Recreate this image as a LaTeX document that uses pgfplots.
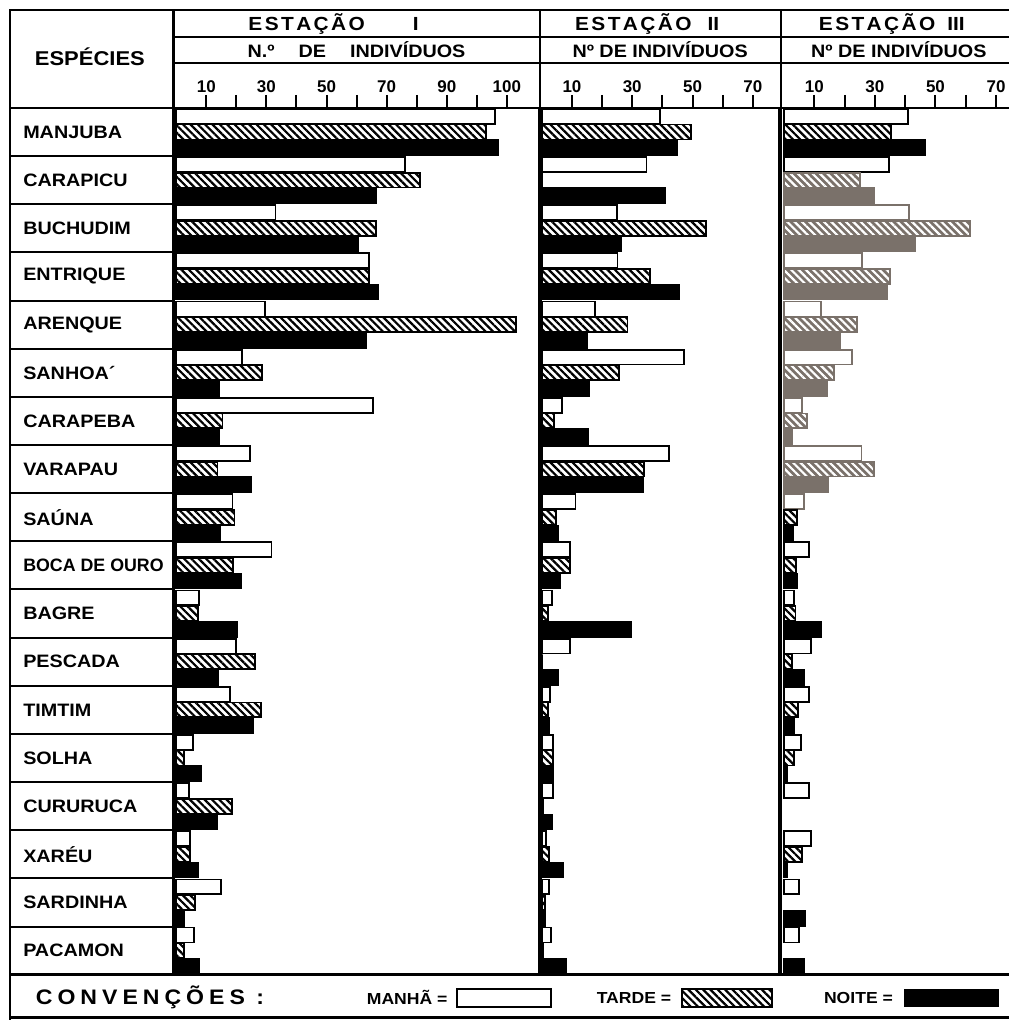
\documentclass[border=0pt]{standalone}
\usepackage{fontspec}
\setmainfont{Liberation Sans}[FakeStretch=1.1]
\newfontfamily\numfont{Liberation Sans}
\usepackage{graphicx}
\usepackage{pgfplots}
\pgfplotsset{compat=1.18}
\usepackage{pgfplotstable}
\usetikzlibrary{patterns.meta}
\definecolor{scan}{HTML}{7A716A}
\newcommand{\lsp}{\kern1.2pt}

\pgfplotstableread{
k m t n
0 106 103 107
1 76 81 66.5
2 33 66.5 60.5
3 64 64 67
4 29.5 113 63
5 22 28.5 14.3
6 65.4 15.4 14.3
7 24.6 13.7 24.9
8 18.7 19.4 14.6
9 31.7 19 21.7
10 7.6 7.1 20.4
11 19.8 26.2 14
12 17.9 28.1 25.4
13 5.6 2.7 8.2
14 4.3 18.5 13.5
15 4.5 4.5 7.4
16 14.8 6.3 2.7
17 6 2.7 7.6
}\tabI
\pgfplotstableread{
k m t n
0 39.1 49.6 45
1 34.7 0 41
2 25 54.4 26.2
3 25.1 35.8 45.4
4 17.6 28.4 15.1
5 47.1 25.6 15.7
6 6.7 4 15.3
7 42.2 33.9 33.6
8 11.2 4.6 5.4
9 9.3 9.3 6
10 3.5 2 29.7
11 9.3 0 5.4
12 2.7 2 2.5
13 3.8 3.8 3.8
14 3.8 0.5 3.3
15 1.5 2.5 7
16 2.5 1 1
17 3 0.5 8.2
}\tabII

\pgfplotsset{
  panel/.style={
    xbar, scale only axis, anchor=south west, height=434pt,
    ymin=-0.5, ymax=17.5, y dir=reverse, ytick=\empty,
    axis line style={line width=1.3pt},
    xtick pos=right, xticklabel pos=right,
    tick align=outside, major tick length=6.5pt,
    major tick style={line width=1pt, black},
    xticklabel style={font=\numfont\bfseries\fontsize{8.5}{9}\selectfont, inner sep=1pt},
    bar width=0.31, clip=false,
  },
  manha/.style={draw=black, line width=0.9pt, fill=white, bar shift=-0.325},
  tarde/.style={draw=black, line width=0.9pt, pattern={Lines[angle=-45,distance=2.6pt,line width=1.1pt]}, pattern color=black, bar shift=0},
  noite/.style={draw=black, line width=0.9pt, fill=black, bar shift=0.325},
  manhag/.style={draw=scan, line width=0.9pt, fill=white, bar shift=-0.325},
  tardeg/.style={draw=scan, line width=0.9pt, preaction={fill=scan}, pattern={Lines[angle=-45,distance=2.6pt,line width=1.1pt]}, pattern color=white, bar shift=0},
  noiteg/.style={draw=scan, line width=0.9pt, fill=scan, bar shift=0.325},
}

\begin{document}
\begin{tikzpicture}
\begin{scope}[x=0.5pt,y=-0.5pt]
\useasboundingbox (0,0) rectangle (1010,1021);
\end{scope}
% Station I
\begin{axis}[panel, at={(87pt,-488pt)}, width=183pt, xmin=-0.83, xmax=120.8,
  xtick={10,20,...,110}, xticklabels={10,,30,,50,,70,,90,,100}]
\addplot[manha] table[x=m,y=k]{\tabI};
\addplot[tarde] table[x=t,y=k]{\tabI};
\addplot[noite] table[x=n,y=k]{\tabI};
\end{axis}
% Station II
\begin{axis}[panel, at={(270.5pt,-488pt)}, width=119.5pt, xmin=-0.5, xmax=78.7,
  xtick={10,20,...,70}, xticklabels={10,,30,,50,,70}]
\addplot[manha] table[x=m,y=k]{\tabII};
\addplot[tarde] table[x=t,y=k]{\tabII};
\addplot[noite] table[x=n,y=k]{\tabII};
\end{axis}
% Station III (no right border, as in the reference)
\begin{axis}[panel, at={(391pt,-488pt)}, width=114pt, xmin=-1, xmax=74.2,
  axis y line*=left,
  xtick={10,20,...,70}, xticklabels={10,,30,,50,,70}]
\addplot[manha] coordinates {(41,0) (34.6,1) (8.2,9) (3.3,10) (8.8,11) (8.2,12) (5.5,13) (8.2,14) (8.8,15) (4.9,16) (4.9,17)};
\addplot[manhag] coordinates {(41.2,2) (25.8,3) (12.1,4) (22.5,5) (5.8,6) (25.6,7) (6.6,8)};
\addplot[tarde] coordinates {(35.2,0) (4.4,8) (4,9) (3.8,10) (2.5,11) (4.7,12) (3.3,13) (6,15)};
\addplot[tardeg] coordinates {(25.1,1) (61.3,2) (34.9,3) (24,4) (16.5,5) (7.5,6) (29.7,7)};
\addplot[noite] coordinates {(46.7,0) (3,8) (4.4,9) (12.1,10) (6.6,11) (3.3,12) (1,13) (1,15) (7.1,16) (6.6,17)};
\addplot[noiteg] coordinates {(29.9,1) (43.4,2) (34,3) (18.5,4) (14.1,5) (2.7,6) (14.6,7)};
\end{axis}

\begin{scope}[x=0.5pt,y=-0.5pt, line width=1.3pt]
\draw (10,1021) -- (10,10) -- (1010,10);
\draw (174,37) -- (1010,37);
\draw (174,63) -- (1010,63);
\draw (10,108) -- (174,108);
\draw (174,10) -- (174,108);
\draw (540.5,10) -- (540.5,108);
\draw (782,10) -- (782,108);
\foreach \k in {1,...,17} \draw[line width=1pt] (10,{108+48.22*\k}) -- (174,{108+48.22*\k});
\draw (10,976) -- (1010,976);
\draw (10,1019) -- (1010,1019);
\node[font=\bfseries\fontsize{10}{12}\selectfont] at (90,57) {ESPÉCIES};
\foreach \nm [count=\i from 0] in {MANJUBA,CARAPICU,BUCHUDIM,ENTRIQUE,ARENQUE,SANHOA´,CARAPEBA,VARAPAU,SAÚNA,{\scalebox{0.9}[1]{BOCA DE OURO}},BAGRE,PESCADA,TIMTIM,SOLHA,CURURUCA,XARÉU,SARDINHA,PACAMON}
  \node[anchor=west, font=\bfseries\fontsize{9}{10}\selectfont, inner sep=0pt] at (22,{108+48.22*(\i+0.5)}) {\nm};
\begin{scope}[every node/.style={font=\bfseries\fontsize{9.5}{10}\selectfont}]
\node at (334,24) {E\lsp S\lsp T\lsp A\lsp Ç\lsp Ã\lsp O\hspace{24pt}I};
\node at (648,24) {E\lsp S\lsp T\lsp A\lsp Ç\lsp Ã\lsp O\hspace{8pt}II};
\node at (893,24) {E\lsp S\lsp T\lsp A\lsp Ç\lsp Ã\lsp O\hspace{6pt}III};
\end{scope}
\begin{scope}[every node/.style={font=\bfseries\fontsize{9}{10}\selectfont}]
\node at (357,50) {N.º\hspace{12pt}DE\hspace{12pt}INDIVÍDUOS};
\node at (661,50) {Nº DE INDIVÍDUOS};
\node at (900,50) {Nº DE INDIVÍDUOS};
\end{scope}
\node[anchor=west, font=\bfseries\fontsize{10.5}{12}\selectfont] at (28,999) {C\kern2.5pt O\kern2.5pt N\kern2.5pt V\kern2.5pt E\kern2.5pt N\kern2.5pt Ç\kern2.5pt Õ\kern2.5pt E\kern2.5pt S\kern2.5pt\ :};
\begin{scope}[every node/.style={anchor=east, font=\bfseries\fontsize{8}{9}\selectfont}]
\node at (456,999) {MANHÃ =};
\node at (680,999) {TARDE =};
\node at (902,999) {NOITE =};
\end{scope}
\draw[line width=1pt, fill=white] (458,990) rectangle (552,1008);
\draw[line width=1pt, pattern={Lines[angle=-45,distance=2.6pt,line width=1.1pt]}] (683,990) rectangle (773,1008);
\fill (905,990) rectangle (1000,1008);
\end{scope}
\end{tikzpicture}
\end{document}
